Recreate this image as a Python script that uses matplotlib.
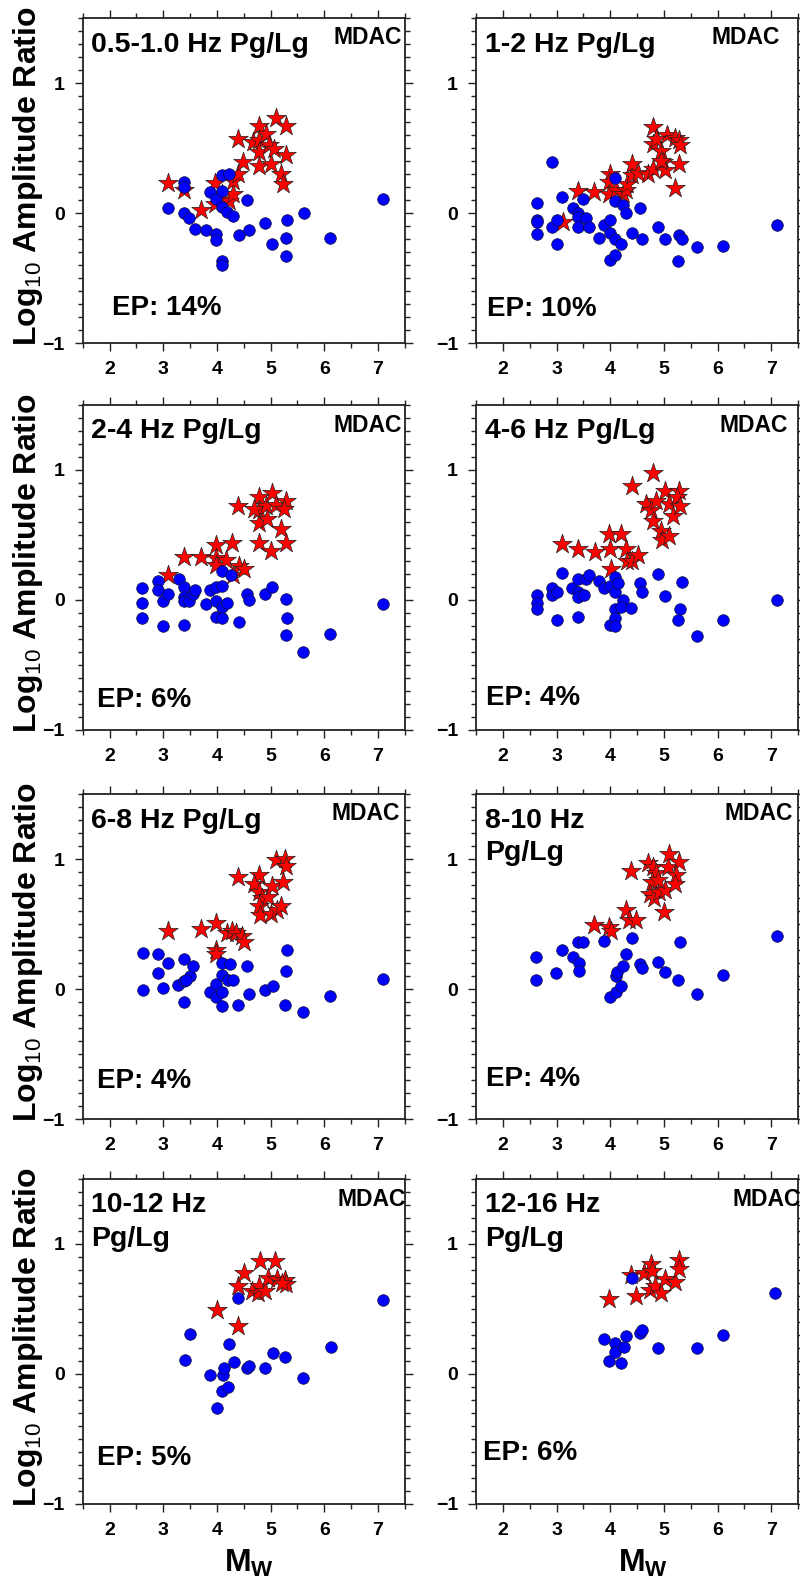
import matplotlib
matplotlib.use("Agg")
import matplotlib.pyplot as plt
from matplotlib.ticker import MultipleLocator

plt.rcParams['font.family'] = ['Liberation Sans', 'DejaVu Sans']
plt.rcParams['mathtext.fontset'] = 'custom'
plt.rcParams['mathtext.rm'] = 'Liberation Sans'
plt.rcParams['mathtext.bf'] = 'Liberation Sans:bold'

# ---------------- data ----------------
titles = ["0.5-1.0 Hz Pg/Lg", "1-2 Hz Pg/Lg", "2-4 Hz Pg/Lg", "4-6 Hz Pg/Lg",
          "6-8 Hz Pg/Lg", "8-10 Hz\nPg/Lg", "10-12 Hz\nPg/Lg", "12-16 Hz\nPg/Lg"]
ep_labels = ["EP: 14%", "EP: 10%", "EP: 6%", "EP: 4%", "EP: 4%", "EP: 4%", "EP: 5%", "EP: 6%"]
model_label = "MDAC"
x_ticks = [2, 3, 4, 5, 6, 7]
y_ticks = [-1, 0, 1]

# 0.5-1.0 Hz
p1_eq_mw = [3.09, 3.39, 3.39, 3.39, 3.49, 3.60, 3.79, 3.88, 3.99, 3.99,
            3.99, 4.09, 4.09, 4.09, 4.09, 4.09, 4.23, 4.19, 4.30, 4.41,
            4.56, 4.59, 4.90, 5.02, 5.29, 5.28, 5.31, 5.62, 6.10, 7.09]
p1_eq_ratio = [0.04, 0.24, 0.20, 0.00, -0.04, -0.12, -0.13, 0.16, -0.165, -0.21,
               0.11, 0.29, 0.17, 0.05, -0.37, -0.40, 0.30, 0.01, -0.02, -0.17,
               0.10, -0.13, -0.075, -0.24, -0.19, -0.33, -0.05, 0.00, -0.19, 0.11]
p1_ex_mw = [3.09, 3.39, 3.70, 3.96, 3.96, 4.09, 4.22, 4.30, 4.30, 4.39,
            4.49, 4.39, 4.67, 4.79, 4.79, 4.79, 4.79, 4.91, 4.98, 5.00,
            5.10, 5.07, 5.28, 5.28, 5.19, 5.23]
p1_ex_ratio = [0.23, 0.18, 0.02, 0.23, 0.07, 0.145, 0.09, 0.15, 0.25, 0.30,
               0.39, 0.57, 0.55, 0.67, 0.56, 0.47, 0.36, 0.61, 0.52, 0.38,
               0.73, 0.49, 0.67, 0.45, 0.30, 0.22]

# 1-2 Hz
p2_eq_mw = [2.92, 2.63, 2.63, 2.63, 2.63, 2.92, 3.01, 3.01, 3.11, 3.31,
            3.40, 3.40, 3.40, 3.50, 3.55, 3.60, 3.80, 3.89, 4.00, 4.00,
            4.00, 4.09, 4.09, 4.09, 4.09, 4.20, 4.24, 4.30, 4.40, 4.56,
            4.59, 4.89, 5.03, 5.29, 5.33, 5.26, 5.61, 6.11, 7.10]
p2_eq_ratio = [0.39, 0.075, -0.05, -0.07, -0.16, -0.11, -0.055, -0.235, 0.12, 0.035,
               0.0, -0.03, -0.11, 0.11, -0.035, -0.11, -0.19, -0.09, -0.05, -0.15,
               -0.36, 0.27, 0.09, -0.20, -0.32, -0.24, 0.06, 0.0, -0.15, 0.035,
               -0.20, -0.11, -0.20, -0.17, -0.20, -0.37, -0.26, -0.25, -0.09]
p2_ex_mw = [3.13, 3.40, 3.69, 4.00, 3.98, 3.98, 4.11, 4.23, 4.29, 4.32,
            4.40, 4.40, 4.51, 4.71, 4.80, 4.80, 4.80, 4.94, 4.99, 5.03,
            5.06, 5.21, 5.28, 5.31, 5.29, 5.21, 4.85, 4.94]
p2_ex_ratio = [-0.07, 0.17, 0.16, 0.30, 0.24, 0.145, 0.18, 0.145, 0.18, 0.22,
               0.29, 0.38, 0.31, 0.30, 0.34, 0.66, 0.53, 0.48, 0.39, 0.33,
               0.60, 0.58, 0.56, 0.52, 0.38, 0.19, 0.57, 0.40]

# 2-4 Hz
p3_eq_mw = [2.60, 2.61, 2.61, 2.90, 2.90, 3.00, 3.00, 3.09, 3.29, 3.39,
            3.39, 3.39, 3.39, 3.49, 3.56, 3.60, 3.79, 3.88, 3.99, 3.99,
            3.99, 4.10, 4.10, 4.10, 4.10, 4.19, 4.27, 4.41, 4.56, 4.59,
            4.90, 5.02, 5.29, 5.31, 5.28, 5.61, 6.10, 7.09]
p3_eq_ratio = [0.09, -0.02, -0.14, 0.15, 0.08, -0.01, -0.20, 0.05, 0.16, 0.10,
               0.02, -0.005, -0.19, -0.01, 0.05, 0.08, -0.03, 0.08, -0.01, -0.13,
               0.10, 0.22, 0.11, -0.05, -0.14, -0.02, 0.19, -0.17, 0.05, 0.0,
               0.05, 0.10, 0.005, -0.14, -0.27, -0.40, -0.26, -0.03]
p3_ex_mw = [3.09, 3.39, 3.70, 3.99, 3.99, 3.99, 4.17, 4.28, 4.30, 4.41,
            4.51, 4.39, 4.79, 4.79, 4.79, 4.79, 4.91, 4.94, 5.00, 5.03,
            5.10, 5.19, 5.28, 5.28, 4.70, 5.25]
p3_ex_ratio = [0.19, 0.33, 0.33, 0.42, 0.32, 0.27, 0.31, 0.44, 0.19, 0.26,
               0.24, 0.72, 0.79, 0.69, 0.59, 0.44, 0.72, 0.62, 0.38, 0.82,
               0.73, 0.55, 0.76, 0.44, 0.70, 0.70]

# 4-6 Hz
p4_eq_mw = [2.63, 2.63, 2.63, 2.92, 2.92, 3.01, 3.01, 3.11, 3.29, 3.40,
            3.40, 3.40, 3.40, 3.51, 3.55, 3.60, 3.80, 3.89, 4.00, 4.00,
            4.09, 4.09, 4.09, 4.09, 4.09, 4.15, 4.24, 4.20, 4.39, 4.56,
            4.60, 4.89, 5.03, 5.33, 5.30, 5.26, 5.61, 6.11, 7.10]
p4_eq_ratio = [0.04, -0.02, -0.07, 0.09, 0.04, 0.06, -0.15, 0.21, 0.09, 0.16,
               0.06, 0.02, -0.13, 0.04, 0.16, 0.19, 0.15, 0.09, 0.11, -0.19,
               0.18, 0.06, -0.07, -0.14, -0.20, 0.13, 0.0, -0.05, -0.06, 0.13,
               0.06, 0.20, 0.03, 0.14, -0.07, -0.15, -0.28, -0.15, 0.0]
p4_ex_mw = [3.11, 3.40, 3.71, 4.00, 3.98, 4.01, 4.20, 4.30, 4.32, 4.41,
            4.51, 4.40, 4.80, 4.67, 4.77, 4.80, 4.94, 4.97, 5.09, 5.03,
            5.09, 5.18, 5.28, 5.25, 5.31, 4.85]
p4_ex_ratio = [0.43, 0.39, 0.37, 0.39, 0.51, 0.24, 0.51, 0.39, 0.30, 0.30,
               0.35, 0.88, 0.98, 0.74, 0.69, 0.61, 0.53, 0.46, 0.49, 0.84,
               0.74, 0.65, 0.84, 0.79, 0.72, 0.76]

# 6-8 Hz
p5_eq_mw = [2.62, 2.63, 2.90, 2.90, 2.99, 3.09, 3.28, 3.39, 3.39, 3.39,
            3.50, 3.56, 3.42, 3.87, 3.99, 3.99, 4.09, 4.09, 4.09, 4.09,
            4.20, 4.25, 4.30, 4.40, 4.56, 4.59, 4.89, 5.04, 5.30, 5.29,
            5.27, 5.61, 6.10, 7.09]
p5_eq_ratio = [0.28, -0.01, 0.27, 0.12, 0.01, 0.20, 0.03, 0.23, 0.06, -0.10,
               0.10, 0.18, 0.07, -0.02, 0.04, -0.06, 0.20, 0.11, -0.02, -0.13,
               0.07, 0.19, 0.07, -0.12, 0.18, -0.04, -0.005, 0.02, 0.30, 0.14,
               -0.12, -0.18, -0.05, 0.08]
p5_ex_mw = [3.09, 3.70, 3.99, 3.99, 3.99, 4.19, 4.28, 4.36, 4.47, 4.50,
            4.39, 4.78, 4.69, 4.78, 4.84, 4.78, 4.80, 4.96, 5.00, 5.02,
            5.12, 5.19, 5.10, 5.27, 5.29, 5.24]
p5_ex_ratio = [0.45, 0.46, 0.51, 0.30, 0.27, 0.43, 0.45, 0.43, 0.41, 0.36,
               0.86, 0.88, 0.81, 0.75, 0.70, 0.64, 0.57, 0.71, 0.58, 0.79,
               0.61, 0.64, 0.99, 1.00, 0.95, 0.82]

# 8-10 Hz
p6_eq_mw = [2.62, 2.62, 2.99, 3.10, 3.30, 3.40, 3.41, 3.41, 3.50, 3.88,
            3.99, 4.10, 4.10, 4.13, 4.20, 4.24, 4.30, 4.41, 4.55, 4.60,
            4.89, 5.03, 5.30, 5.27, 5.61, 6.11, 7.10]
p6_eq_ratio = [0.25, 0.07, 0.12, 0.30, 0.25, 0.36, 0.20, 0.14, 0.36, 0.37,
               -0.06, -0.02, 0.10, 0.13, 0.02, 0.18, 0.27, 0.39, 0.19, 0.16,
               0.21, 0.13, 0.36, 0.07, -0.04, 0.11, 0.41]
p6_ex_mw = [3.69, 3.98, 4.02, 4.30, 4.36, 4.49, 4.38, 4.70, 4.80, 4.85,
            4.78, 4.75, 4.81, 4.91, 5.03, 5.07, 5.10, 5.29, 5.23, 5.20,
            5.01, 4.89]
p6_ex_ratio = [0.49, 0.48, 0.45, 0.61, 0.53, 0.53, 0.91, 0.97, 0.94, 0.89,
               0.82, 0.73, 0.70, 0.75, 0.76, 0.94, 1.04, 0.98, 0.88, 0.81,
               0.59, 0.84]

# 10-12 Hz
p7_eq_mw = [3.40, 3.50, 3.88, 4.01, 4.09, 4.11, 4.13, 4.20, 4.23, 4.31,
            4.40, 4.56, 4.59, 4.89, 5.04, 5.27, 5.61, 6.12, 7.10]
p7_eq_ratio = [0.11, 0.31, -0.01, -0.26, -0.13, -0.005, 0.05, -0.10, 0.23, 0.095,
               0.585, 0.044, 0.064, 0.046, 0.16, 0.13, -0.03, 0.21, 0.57]
p7_ex_mw = [4.01, 4.40, 4.40, 4.50, 4.65, 4.77, 4.80, 4.78, 4.90, 4.96,
            5.09, 5.12, 5.27, 5.29, 5.21]
p7_ex_ratio = [0.49, 0.37, 0.68, 0.78, 0.64, 0.62, 0.87, 0.68, 0.64, 0.74,
               0.87, 0.73, 0.72, 0.69, 0.70]

# 12-16 Hz
p8_eq_mw = [3.88, 3.98, 4.09, 4.09, 4.20, 4.25, 4.29, 4.40, 4.55, 4.60,
            4.89, 5.61, 6.11, 7.07]
p8_eq_ratio = [0.27, 0.10, 0.24, 0.17, 0.085, 0.21, 0.295, 0.74, 0.315, 0.34,
               0.20, 0.20, 0.30, 0.62]
p8_ex_mw = [3.98, 4.38, 4.49, 4.63, 4.76, 4.78, 4.75, 4.84, 4.95, 5.03,
            5.20, 5.28, 5.29]
p8_ex_ratio = [0.58, 0.76, 0.60, 0.78, 0.85, 0.79, 0.65, 0.68, 0.62, 0.73,
               0.71, 0.88, 0.81]

eq_mw = [p1_eq_mw, p2_eq_mw, p3_eq_mw, p4_eq_mw, p5_eq_mw, p6_eq_mw, p7_eq_mw, p8_eq_mw]
eq_ratio = [p1_eq_ratio, p2_eq_ratio, p3_eq_ratio, p4_eq_ratio,
            p5_eq_ratio, p6_eq_ratio, p7_eq_ratio, p8_eq_ratio]
ex_mw = [p1_ex_mw, p2_ex_mw, p3_ex_mw, p4_ex_mw, p5_ex_mw, p6_ex_mw, p7_ex_mw, p8_ex_mw]
ex_ratio = [p1_ex_ratio, p2_ex_ratio, p3_ex_ratio, p4_ex_ratio,
            p5_ex_ratio, p6_ex_ratio, p7_ex_ratio, p8_ex_ratio]

# ---------------- layout ----------------
W, H = 800, 1585
fig = plt.figure(figsize=(W / 100, H / 100), dpi=100)

col_left_px = [82.7, 476.0]
ax_w_px = 322.0
row_top_px = [18, 405, 794, 1179]
ax_h_px = 325.0

# EP label positions in axes fraction (x, y baseline)
ep_pos = [(0.09, 0.086), (0.033, 0.082), (0.043, 0.072), (0.031, 0.077),
          (0.043, 0.096), (0.031, 0.10), (0.043, 0.12), (0.023, 0.135)]
mdac_x = [0.99, 0.945, 0.99, 0.97, 0.985, 0.985, 1.003, 1.01]

for i in range(8):
    r, c = divmod(i, 2)
    left = col_left_px[c] / W
    bottom = 1 - (row_top_px[r] + ax_h_px) / H
    ax = fig.add_axes([left, bottom, ax_w_px / W, ax_h_px / H])

    ax.scatter(ex_mw[i], ex_ratio[i], marker='*', s=220, c='#ff0000',
               edgecolors='#202020', linewidths=0.5, zorder=3)
    ax.scatter(eq_mw[i], eq_ratio[i], marker='o', s=70, c='#0000ff',
               edgecolors='#101030', linewidths=0.5, zorder=4)

    ax.set_xlim(1.5, 7.5)
    ax.set_ylim(-1, 1.5)
    ax.set_xticks(x_ticks)
    ax.set_yticks(y_ticks)
    ax.xaxis.set_minor_locator(MultipleLocator(0.5))
    ax.yaxis.set_minor_locator(MultipleLocator(0.1))
    ax.tick_params(which='both', direction='out', top=True, right=True,
                   labeltop=False, labelright=False, width=1.0, color='#222222')
    ax.tick_params(which='major', length=6, pad=7, labelsize=14)
    ax.tick_params(which='minor', length=3.5)
    for lab in ax.get_xticklabels() + ax.get_yticklabels():
        lab.set_fontweight('bold')
    for sp in ax.spines.values():
        sp.set_linewidth(1.3)
        sp.set_color('#222222')

    # title lines
    lines = titles[i].split("\n")
    for k, ln in enumerate(lines):
        ax.text(0.027, 1 - (33.5 + 33 * k) / ax_h_px, ln, transform=ax.transAxes,
                ha='left', va='baseline', fontsize=20.5, fontweight='bold')
    ax.text(mdac_x[i], 1 - 26.5 / ax_h_px, model_label, transform=ax.transAxes,
            ha='right', va='baseline', fontsize=16.5, fontweight='bold')
    ax.text(ep_pos[i][0], ep_pos[i][1], ep_labels[i], transform=ax.transAxes,
            ha='left', va='baseline', fontsize=20, fontweight='bold')

# row y-labels
for r in range(4):
    yc = 1 - (row_top_px[r] + ax_h_px / 2 - 4) / H
    fig.text(28.5 / W, yc, "Log$_{10}$ Amplitude Ratio", rotation=90,
             ha='center', va='center', fontsize=23, fontweight='bold')

# x labels
for xc in [249, 643]:
    fig.text(xc / W, 1 - 1571.5 / H, r"M$_{\mathbf{W}}$", ha='center', va='baseline',
             fontsize=23, fontweight='bold')

fig.savefig("out.png", dpi=100)
